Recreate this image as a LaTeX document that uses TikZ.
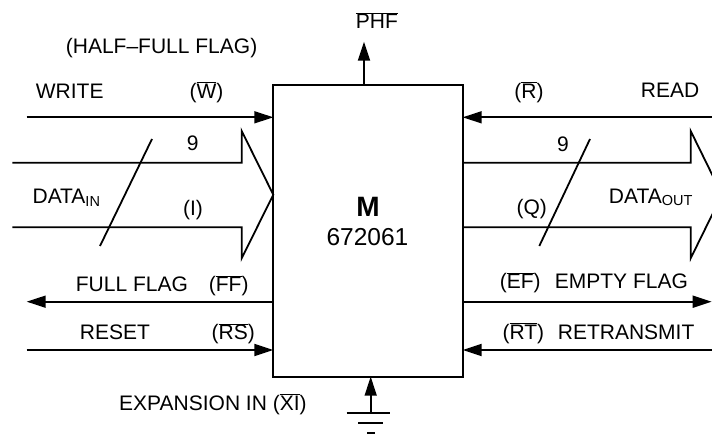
\documentclass[tikz,border=0pt]{standalone}
\usepackage{fontspec}
\setmainfont{Liberation Sans}
\usetikzlibrary{arrows.meta}
\newcommand\ovl[1]{$\overline{\mbox{#1}}$}
\newcommand\subtxt[1]{\raisebox{-2.7pt}{\fontsize{14.5}{15}\selectfont #1}}
\begin{document}
\begin{tikzpicture}[x=1pt,y=-1pt,line width=1.8pt,
  lbl/.style={anchor=base west,inner sep=0pt,font=\fontsize{21}{25}\selectfont},
  clbl/.style={anchor=base,inner sep=0pt,font=\fontsize{21}{25}\selectfont},
  sig/.style={-{Triangle[length=19pt,width=12pt]}},
  chip/.style={draw,line width=2pt,inner sep=0pt,outer sep=0pt,minimum width=189.4pt,minimum height=291.7pt,anchor=north west}]
\useasboundingbox (0,0) rectangle (712,435);
\clip (0,0) rectangle (712,435);
% chip
\node[chip] (m) at (273.3,85) {};
\node[anchor=base,inner sep=0pt,font=\bfseries\fontsize{28}{30}\selectfont] (mt) at (368,216.7) {M};
\node[anchor=base,inner sep=0pt,font=\fontsize{24.5}{28}\selectfont] (num) at (367.5,246) {672061};
% free ends
\coordinate (wr) at (26.7,117.3);
\coordinate (rd) at (711.7,117.3);
\coordinate (ff) at (26.7,301.7);
\coordinate (rs) at (26.7,350);
\coordinate (ef) at (711.7,301.7);
\coordinate (rt) at (711.7,350);
\coordinate (phf) at (364,41.7);
\coordinate (gnd) at (370.7,413.3);
% signals
\draw[sig] (wr) -- (m.west |- wr);
\draw[sig] (rd) -- (m.east |- rd);
\draw[sig] (m.west |- ff) -- (ff);
\draw[sig] (rs) -- (m.west |- rs);
\draw[sig] (m.east |- ef) -- (ef);
\draw[sig] (rt) -- (m.east |- rt);
\draw[sig] (phf |- m.north) -- (phf);
\draw[sig] (gnd) -- (gnd |- m.south);
% ground
\draw (346.7,413.3) -- (390,413.3);
\draw (358.3,422.7) -- (383.3,422.7);
\draw (367.3,433.3) -- (375,433.3);
% data in bus
\draw[line join=miter] (12.3,162.7) -- (241.7,162.7) -- (241.7,131) -- (m.west |- 0,194.7) -- (241.7,258.3) -- (241.7,227.3) -- (12.3,227.3);
\draw (152,139) -- (100,246);
% data out bus
\draw[line join=miter] (m.east |- 0,162.7) -- (690.7,162.7) -- (690.7,131) -- (722,194.7) -- (690.7,258.3) -- (690.7,227.3) -- (m.east |- 0,227.3);
\draw (590,139) -- (539.3,246);
% labels
\node[lbl] (hff) at (65,53.3) {(HALF\textendash FULL FLAG)};
\node[lbl] (phft) at (355,29) {\ovl{PHF}};
\node[lbl] (write) at (35,98.7) {WRITE};
\node[clbl] (wbar) at (206.5,98.5) {(\ovl{W})};
\node[clbl] (nine1) at (192.7,150.7) {9};
\node[lbl] (din) at (31.7,204) {DATA\subtxt{IN}};
\node[clbl] (ipar) at (193,216) {(I)};
\node[clbl] (rbar) at (529,98.5) {(\ovl{R})};
\node[lbl] (read) at (640,97.5) {READ};
\node[clbl] (nine2) at (563,151.7) {9};
\node[lbl] (dout) at (608,203.3) {DATA\subtxt{OUT}};
\node[clbl] (qpar) at (531.7,215) {(Q)};
\node[lbl] (fullflag) at (75,291.7) {FULL FLAG};
\node[lbl] (ffbar) at (208,291.7) {(\ovl{FF})};
\node[lbl] (reset) at (79,340) {RESET};
\node[lbl] (rsbar) at (210.7,340) {(\ovl{RS})};
\node[lbl] (efbar) at (499,289) {(\ovl{EF})};
\node[lbl] (emptyflag) at (554,289) {EMPTY FLAG};
\node[lbl] (rtbar) at (501.7,339.3) {(\ovl{RT})};
\node[lbl] (retransmit) at (557,339.3) {RETRANSMIT};
\node[lbl] (expansion) at (118.3,410) {EXPANSION IN (\ovl{XI})};
\end{tikzpicture}
\end{document}
